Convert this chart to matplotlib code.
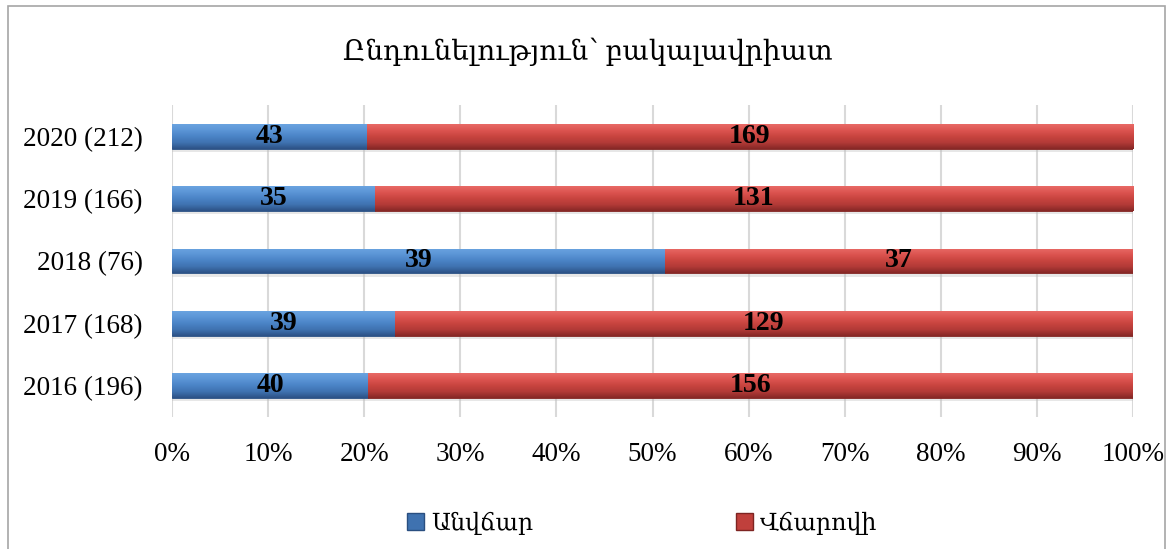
import numpy as np
import matplotlib
matplotlib.use("Agg")
import matplotlib.pyplot as plt
from matplotlib.patches import Rectangle
from matplotlib.colors import LinearSegmentedColormap

# --- data ---
years = ["2016 (196)", "2017 (168)", "2018 (76)", "2019 (166)", "2020 (212)"]
free = [40, 39, 39, 35, 43]
paid = [156, 129, 37, 131, 169]
title = "Ընդունելություն՝ բակալավրիատ"
series_names = ["Անվճար", "Վճարովի"]

plt.rcParams["font.family"] = ["Liberation Serif", "DejaVu Serif"]

blue_cmap = LinearSegmentedColormap.from_list(
    "b", ["#2c5286", "#3f72b0", "#4a83c6", "#5b95d6", "#6aa3e0"])
red_cmap = LinearSegmentedColormap.from_list(
    "r", ["#862826", "#b23a37", "#c8443f", "#dc5450", "#e86a66"])

fig = plt.figure(figsize=(11.75, 5.49), dpi=100)
ax = fig.add_axes([172 / 1175, 1 - 417 / 549, 961 / 1175, 312 / 549])

tot = np.array(free) + np.array(paid)
free_pct = np.array(free) / tot * 100
paid_pct = np.array(paid) / tot * 100
y = np.arange(len(years))
h = 0.4


def shaded_bars(left, width, cmap, edge):
    bars = ax.barh(y, width, left=left, height=h, color=cmap(0.55),
                   edgecolor=edge, linewidth=0.6, zorder=2)
    grad = np.linspace(0, 1, 64).reshape(-1, 1)
    for b in bars:
        x0, y0 = b.get_x(), b.get_y()
        im = ax.imshow(grad, cmap=cmap, aspect="auto", origin="lower",
                       extent=[x0, x0 + b.get_width(), y0, y0 + b.get_height()],
                       zorder=2.5)
        im.set_clip_path(b)
        # soft shadow under bar
        ax.add_patch(Rectangle((x0, y0 - 0.05), b.get_width(), 0.05,
                               color="#bbbbbb", alpha=0.35, lw=0, zorder=1.5))
    return bars


shaded_bars(0, free_pct, blue_cmap, "#2a4f80")
shaded_bars(free_pct, paid_pct, red_cmap, "#7e2422")

for i in range(len(years)):
    ax.text(free_pct[i] / 2, y[i], str(free[i]), ha="center", va="center",
            fontsize=20, fontweight="bold", zorder=4)
    ax.text(free_pct[i] + paid_pct[i] / 2, y[i], str(paid[i]), ha="center",
            va="center", fontsize=20, fontweight="bold", zorder=4)

ax.set_xlim(0, 100)
ax.set_ylim(-0.5, len(years) - 0.5)
ax.set_xticks(np.arange(0, 101, 10))
ax.set_xticklabels([f"{v}%" for v in range(0, 101, 10)])
ax.set_yticks(y)
ax.set_yticklabels(years)
ax.tick_params(axis="both", length=0, labelsize=19.5)
ax.tick_params(axis="x", pad=18)
ax.tick_params(axis="y", pad=21)
ax.grid(axis="x", color="#d9d9d9", linewidth=1.5, zorder=0)
ax.set_axisbelow(True)
for s in ax.spines.values():
    s.set_visible(False)

fig.text(0.5, 1 - 52 / 549, title, ha="center", va="center", fontsize=20)

handles = [Rectangle((0, 0), 1, 1, facecolor="#3f72b0", edgecolor="#2a4f80"),
           Rectangle((0, 0), 1, 1, facecolor="#c0403c", edgecolor="#7e2422")]
fig.legend(handles, series_names, loc="center left", bbox_to_anchor=(386 / 1175, 1 - 523 / 549),
           ncol=2, frameon=False, fontsize=17, handlelength=0.7, handleheight=0.7,
           handletextpad=0.3, columnspacing=8.6)

# outer chart border
fig.add_artist(Rectangle((8 / 1175, -0.01), 1157 / 1175, 1 - 6 / 549 + 0.01,
                         transform=fig.transFigure, fill=False,
                         edgecolor="#a6a6a6", linewidth=1.2))

fig.savefig("out.png", dpi=100, facecolor="white")
